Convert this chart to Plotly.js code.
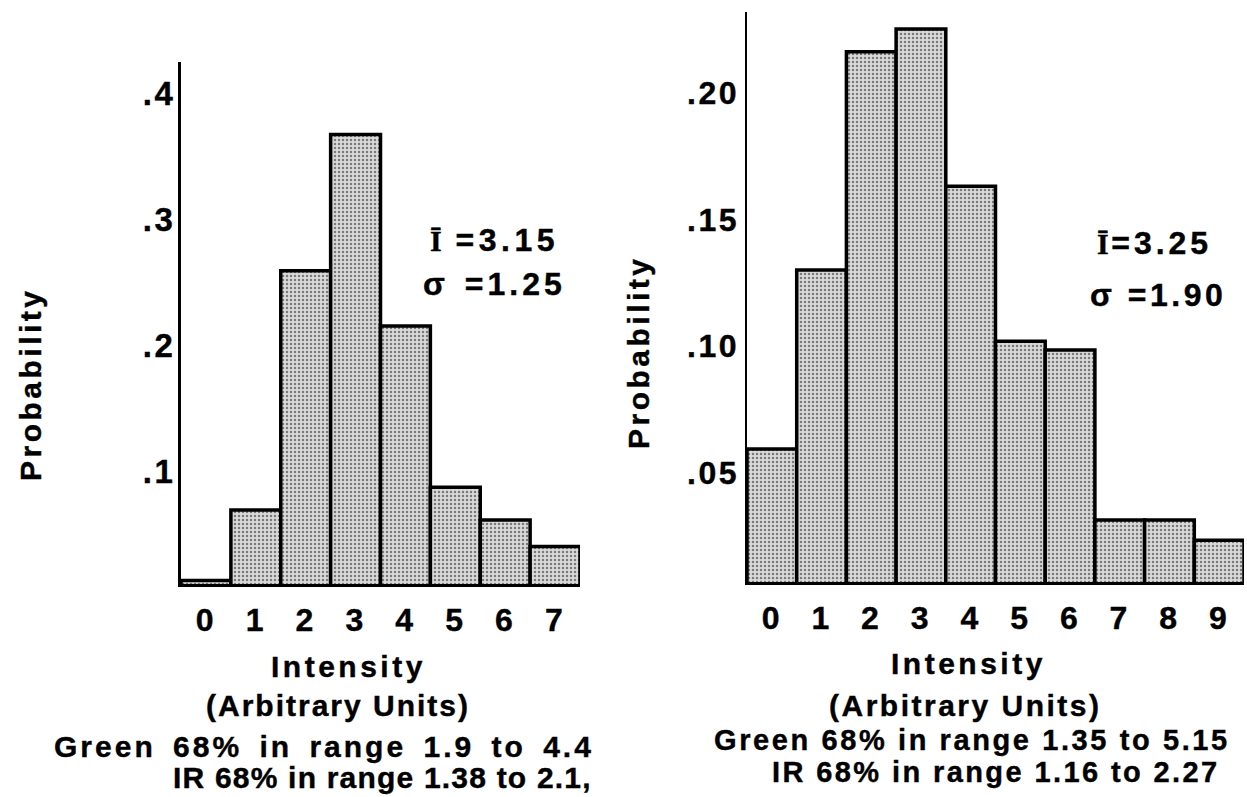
<!DOCTYPE html>
<html>
<head>
<meta charset="utf-8">
<script src="https://cdn.plot.ly/plotly-3.0.1.min.js"></script>
<style>
  html, body { margin: 0; padding: 0; background: #fff; }
  #chart { width: 1247px; height: 797px; }
  svg text { letter-spacing: 2.5px; stroke: #000; stroke-width: 0.4px; }
</style>
</head>
<body>
<div id="chart"></div>
<script>
// ---- data ----
const leftIntensity = [0, 1, 2, 3, 4, 5, 6, 7];
const leftProb = [0.013, 0.069, 0.259, 0.367, 0.215, 0.087, 0.061, 0.040];
const rightIntensity = [0, 1, 2, 3, 4, 5, 6, 7, 8, 9];
const rightProb = [0.0595, 0.130, 0.216, 0.225, 0.163, 0.102, 0.0985, 0.0315, 0.0315, 0.0236];

const leftYTicks = [0.1, 0.2, 0.3, 0.4];
const leftYLabels = ['.1', '.2', '.3', '.4'];
const rightYTicks = [0.05, 0.10, 0.15, 0.20];
const rightYLabels = ['.05', '.10', '.15', '.20'];

const xTitle = 'Intensity';
const xSubTitle = '(Arbitrary Units)';
const yTitle = 'Probability';
const leftStats = ['Ī', '=3.15', 'σ', '=1.25'];
const rightStats = ['Ī', '=3.25', 'σ', '=1.90'];
const leftNotes = ['Green 68% in range 1.9 to 4.4', 'IR 68% in range 1.38 to 2.1,'];
const rightNotes = ['Green 68% in range 1.35 to 5.15', 'IR 68% in range 1.16 to 2.27'];

// ---- helpers ----
const W = 1247, H = 797;
const px = x => x / W;
const py = y => 1 - y / H;
const FONT = 'Liberation Sans';

const barMarker = {
  color: '#d6d6d6',
  line: { color: '#000', width: 3.5 },
  pattern: { shape: '.', fgcolor: '#7a7a7a', bgcolor: '#dadada', size: 4, solidity: 0.3 }
};

const traces = [
  { type: 'bar', x: leftIntensity, y: leftProb, width: 1, marker: barMarker,
    xaxis: 'x', yaxis: 'y', hoverinfo: 'skip' },
  { type: 'bar', x: rightIntensity, y: rightProb, width: 1, marker: barMarker,
    xaxis: 'x2', yaxis: 'y2', hoverinfo: 'skip' }
];

const tickFont = s => ({ family: FONT, size: s, color: '#000', weight: 'bold' });
const sp = (t, l, w) => '<span style="letter-spacing:' + l + 'px' + (w ? ';word-spacing:' + w + 'px' : '') + '">' + t + '</span>';
const ibar = s => '<span style="font-family:Liberation Serif;font-size:' + s + 'px">';

function txt(text, x, y, size, opts) {
  return Object.assign({
    text: text, xref: 'paper', yref: 'paper', x: px(x), y: py(y),
    xanchor: 'center', yanchor: 'middle', showarrow: false,
    font: { family: FONT, size: size, color: '#000', weight: 'bold' }
  }, opts || {});
}

const annotations = [
  // left panel
  txt(sp(yTitle, 3.5), 30, 384, 30, { textangle: -90 }),
  txt(sp(xTitle, 3.5), 348, 666, 30),
  txt(sp(xSubTitle, 2), 338, 705, 30),
  txt(sp(leftNotes[0], 3, 6), 596, 746, 30, { xanchor: 'right' }),
  txt(sp(leftNotes[1], 1.2), 594, 777, 30, { xanchor: 'right' }),
  txt(ibar(30) + leftStats[0] + '</span> ' + sp(leftStats[1], 4.5), 428, 240, 32, { xanchor: 'left' }),
  txt(sp(leftStats[2] + ' ' + leftStats[3], 4, 3), 421, 284, 32, { xanchor: 'left' }),
  // right panel
  txt(sp(yTitle, 3.5), 638, 352, 30, { textangle: -90 }),
  txt(sp(xTitle, 3.5), 968, 663, 30),
  txt(sp(xSubTitle, 2.5), 965, 705, 30),
  txt(sp(rightNotes[0], 2.6), 1232, 740, 29, { xanchor: 'right' }),
  txt(sp(rightNotes[1], 2.4), 1222, 772, 29, { xanchor: 'right' }),
  txt(ibar(30) + rightStats[0] + '</span>' + sp(rightStats[1], 4), 1095, 243, 32, { xanchor: 'left' }),
  txt(sp(rightStats[2] + ' ' + rightStats[3], 3.5), 1088, 295, 32, { xanchor: 'left' })
];

const layout = {
  width: W, height: H,
  margin: { l: 0, r: 0, t: 0, b: 0 },
  paper_bgcolor: '#fff', plot_bgcolor: '#fff',
  showlegend: false,
  bargap: 0,
  xaxis: {
    domain: [px(181), px(580)], range: [-0.5, 7.5],
    tickvals: leftIntensity, ticks: '', showgrid: false, zeroline: false,
    showline: true, linecolor: '#000', linewidth: 3,
    tickfont: tickFont(32), ticklabelstandoff: 6, fixedrange: true
  },
  yaxis: {
    domain: [py(584), py(62)], range: [0.0103, 0.4246],
    tickvals: leftYTicks, ticktext: leftYLabels, ticks: '',
    showgrid: false, zeroline: false,
    showline: true, linecolor: '#000', linewidth: 3,
    tickfont: tickFont(33), ticklabelstandoff: -4, fixedrange: true
  },
  xaxis2: {
    anchor: 'y2',
    domain: [px(747), px(1244)], range: [-0.5, 9.5],
    tickvals: rightIntensity, ticks: '', showgrid: false, zeroline: false,
    showline: true, linecolor: '#000', linewidth: 3,
    tickfont: tickFont(32), ticklabelstandoff: 6, fixedrange: true
  },
  yaxis2: {
    anchor: 'x2',
    domain: [py(582), py(12)], range: [0.0071, 0.2317],
    tickvals: rightYTicks, ticktext: rightYLabels, ticks: '',
    showgrid: false, zeroline: false,
    showline: true, linecolor: '#000', linewidth: 2.5,
    tickfont: tickFont(32), ticklabelstandoff: -1, fixedrange: true
  },
  annotations: annotations
};

Plotly.newPlot('chart', traces, layout, { staticPlot: true, displayModeBar: false });
</script>
</body>
</html>
